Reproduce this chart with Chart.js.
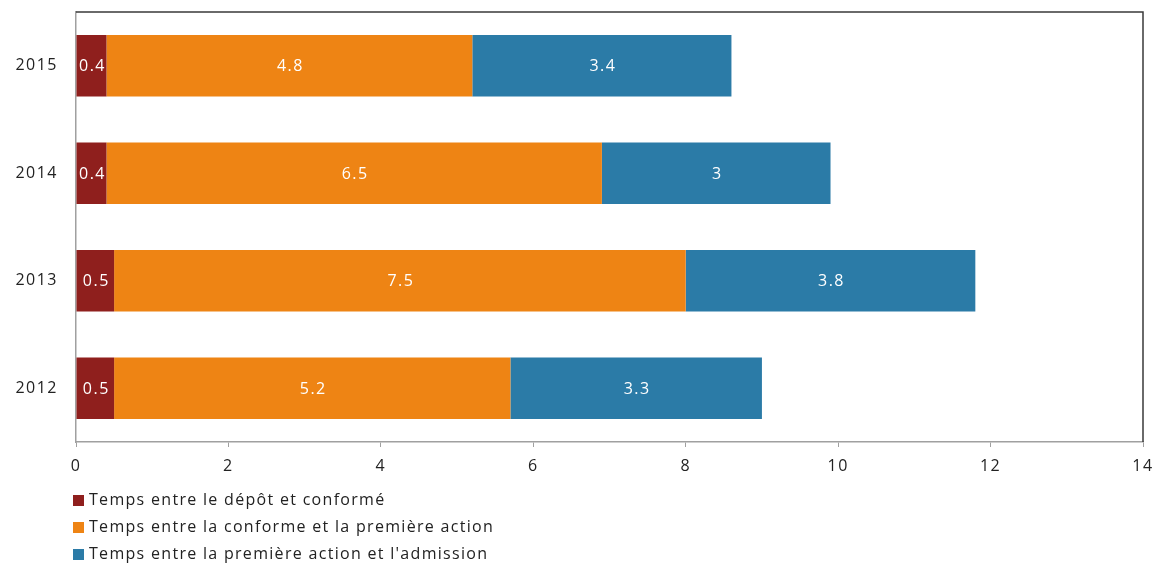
<!DOCTYPE html>
<html>
<head>
<meta charset="utf-8">
<script src="https://cdn.jsdelivr.net/npm/chart.js@4/dist/chart.umd.min.js"></script>
<style>
  html, body { margin: 0; padding: 0; background: #fff; }
  #wrap { position: relative; width: 1157px; height: 563px; }
  #legend { position: absolute; left: 73px; top: 486px; font-family: "Open Sans", sans-serif; font-size: 16px; letter-spacing: 1.3px; color: #222; }
  #legend div { height: 27px; line-height: 27px; white-space: nowrap; }
  #legend span.box { display: inline-block; width: 11px; height: 11px; margin-right: 5px; vertical-align: -1px; }
</style>
</head>
<body>
<div id="wrap">
  <canvas id="c" width="1157" height="563"></canvas>
  <div id="legend"></div>
</div>
<script>
// Years shown on the vertical axis, top to bottom
const years = ['2015', '2014', '2013', '2012'];

// Delays per stage (months)
const depotConforme = [0.4, 0.4, 0.5, 0.5];
const conformeAction = [4.8, 6.5, 7.5, 5.2];
const actionAdmission = [3.4, 3.0, 3.8, 3.3];

const seriesNames = [
  'Temps entre le dépôt et conformé',
  'Temps entre la conforme et la première action',
  "Temps entre la première action et l'admission"
];
const seriesColors = ['#8f1f1d', '#ee8414', '#2b7ba7'];

// X axis range and step
const xMin = 0, xMax = 14, xStep = 2;

const FONT = '"Open Sans", sans-serif';
const SPACING = '1.5px';

// Slightly wider text spacing for every label on the canvas
const textSpacing = {
  id: 'textSpacing',
  beforeInit(chart) { chart.ctx.letterSpacing = SPACING; },
  beforeDraw(chart) { chart.ctx.letterSpacing = SPACING; }
};

// Writes the value of each segment in its centre
const segmentLabels = {
  id: 'segmentLabels',
  afterDatasetsDraw(chart) {
    const ctx = chart.ctx;
    ctx.save();
    ctx.letterSpacing = SPACING;
    ctx.font = '16px ' + FONT;
    ctx.fillStyle = '#ffffff';
    ctx.textAlign = 'center';
    ctx.textBaseline = 'middle';
    chart.data.datasets.forEach((ds, i) => {
      const meta = chart.getDatasetMeta(i);
      meta.data.forEach((bar, j) => {
        const cx = (bar.x + bar.base) / 2 + 1;
        ctx.fillText(String(ds.data[j]), cx, bar.y + 1);
      });
    });
    ctx.restore();
  }
};

// Top and right edges of the plot frame
const frame = {
  id: 'frame',
  afterDraw(chart) {
    const a = chart.chartArea;
    const ctx = chart.ctx;
    ctx.save();
    ctx.strokeStyle = '#3a3a3a';
    ctx.lineWidth = 1.5;
    ctx.beginPath();
    ctx.moveTo(a.left, a.top);
    ctx.lineTo(a.right, a.top);
    ctx.lineTo(a.right, a.bottom);
    ctx.stroke();
    ctx.restore();
  }
};

const chart = new Chart(document.getElementById('c'), {
  type: 'bar',
  data: {
    labels: years,
    datasets: [
      { label: seriesNames[0], data: depotConforme, backgroundColor: seriesColors[0] },
      { label: seriesNames[1], data: conformeAction, backgroundColor: seriesColors[1] },
      { label: seriesNames[2], data: actionAdmission, backgroundColor: seriesColors[2] }
    ]
  },
  options: {
    indexAxis: 'y',
    responsive: false,
    animation: false,
    events: [],
    datasets: { bar: { categoryPercentage: 1, barPercentage: 0.57, borderWidth: 0 } },
    layout: { padding: { left: 0, right: 14, top: 12, bottom: 91 } },
    plugins: { legend: { display: false }, tooltip: { enabled: false } },
    scales: {
      x: {
        stacked: true,
        min: xMin, max: xMax,
        ticks: { stepSize: xStep, color: '#222', font: { family: FONT, size: 16 }, padding: 10 },
        grid: { drawOnChartArea: false, drawTicks: true, tickLength: 5, color: '#a0a0a0' },
        border: { color: '#a0a0a0', width: 1.5 },
        afterFit(s) { s.height = 30; s.paddingLeft = 0; s.paddingRight = 0; }
      },
      y: {
        stacked: true,
        ticks: { color: '#222', font: { family: FONT, size: 16 }, padding: 18 },
        grid: { display: false, drawTicks: false },
        border: { display: true, color: '#a0a0a0', width: 1.5 },
        afterFit(s) { s.width = 76; s.paddingTop = 0; s.paddingBottom = 0; }
      }
    }
  },
  plugins: [textSpacing, segmentLabels, frame]
});

// Legend stacked vertically below the axis
const legend = document.getElementById('legend');
seriesNames.forEach((name, i) => {
  const row = document.createElement('div');
  const box = document.createElement('span');
  box.className = 'box';
  box.style.background = seriesColors[i];
  row.appendChild(box);
  row.appendChild(document.createTextNode(name));
  legend.appendChild(row);
});
</script>
</body>
</html>
